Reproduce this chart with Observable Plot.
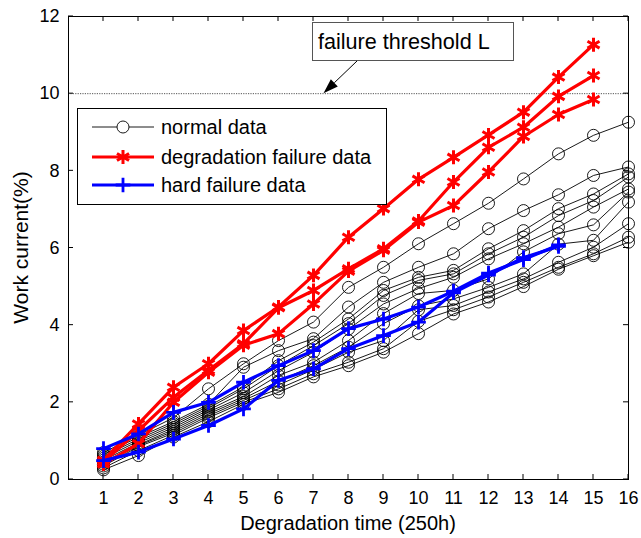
<!DOCTYPE html>
<html>
<head>
<meta charset="utf-8">
<script src="https://cdn.jsdelivr.net/npm/d3@7"></script>
<script src="https://cdn.jsdelivr.net/npm/@observablehq/plot@0.6"></script>
<style>
  html, body { margin: 0; padding: 0; background: white; }
  #chart { width: 641px; height: 538px; }
</style>
</head>
<body>
<div id="chart"></div>
<script>
// ---------- data ----------
const xTicks = [1,2,3,4,5,6,7,8,9,10,11,12,13,14,15,16];
const yTicks = [0,2,4,6,8,10,12];
const threshold = 10;
const thresholdLabel = "failure threshold L";
const xLabel = "Degradation time (250h)";
const yLabel = "Work current(%)";
const legendLabels = ["normal data", "degradation failure data", "hard failure data"];

// normal data: x = 1..16
const normal0 = [0.70,1.15,1.60,2.35,3.00,3.60,4.08,4.98,5.50,6.11,6.63,7.16,7.79,8.44,8.92,9.26];
const normal1 = [0.65,1.10,1.50,1.95,2.91,3.34,3.65,4.47,5.11,5.50,5.85,6.50,6.97,7.38,7.88,8.10];
const normal2 = [0.60,1.05,1.45,1.90,2.40,3.08,3.56,4.16,4.90,5.24,5.42,5.98,6.45,7.02,7.40,7.92];
const normal3 = [0.55,1.00,1.40,1.85,2.35,2.95,3.47,4.04,4.77,5.16,5.33,5.85,6.28,6.84,7.23,7.84];
const normal4 = [0.50,0.95,1.35,1.80,2.25,2.82,3.30,3.90,4.55,4.95,5.24,5.72,6.11,6.54,7.06,7.53];
const normal5 = [0.45,0.90,1.30,1.75,2.15,2.70,3.04,3.60,4.30,4.82,4.90,5.20,5.90,6.37,6.60,7.45];
const normal6 = [0.40,0.88,1.25,1.70,2.10,2.55,2.95,3.43,4.04,4.50,4.68,4.98,5.33,6.10,6.20,7.19];
const normal7 = [0.35,0.85,1.20,1.65,2.05,2.45,2.85,3.30,3.60,4.40,4.51,4.86,5.20,5.63,6.02,6.63];
const normal8 = [0.30,0.75,1.15,1.60,2.00,2.35,2.74,3.04,3.39,4.10,4.40,4.73,5.11,5.50,5.85,6.28];
const normal9 = [0.25,0.62,1.10,1.50,1.95,2.26,2.66,2.95,3.30,3.78,4.29,4.60,5.00,5.45,5.80,6.15];

// degradation failure data: x = 1..15
const degr0 = [0.50,1.44,2.39,3.00,3.86,4.47,5.29,6.28,7.02,7.78,8.35,8.93,9.52,10.43,11.27];
const degr1 = [0.45,1.27,2.13,2.83,3.52,4.45,4.90,5.46,5.98,6.70,7.71,8.61,9.13,9.93,10.47];
const degr2 = [0.40,0.93,2.00,2.78,3.48,3.78,4.55,5.40,5.94,6.67,7.10,7.97,8.89,9.46,9.85];

// hard failure data: x = 1..14
const hard0 = [0.80,1.18,1.74,2.00,2.52,2.95,3.34,3.91,4.16,4.47,4.88,5.35,5.70,6.08];
const hard1 = [0.49,0.71,1.05,1.40,1.83,2.57,2.87,3.39,3.73,4.08,4.84,5.30,5.75,6.04];

const normalSeries = [normal0,normal1,normal2,normal3,normal4,normal5,normal6,normal7,normal8,normal9];
const degrSeries = [degr0,degr1,degr2];
const hardSeries = [hard0,hard1];

const toRows = (series) => series.flatMap((vals, id) => vals.map((v, i) => ({id, x: xTicks[i], y: v})));
const normalRows = toRows(normalSeries);
const degrRows = toRows(degrSeries);
const hardRows = toRows(hardSeries);

// ---------- chart ----------
const FONT = "'Liberation Sans', Arial, Helvetica, sans-serif";
const chart = Plot.plot({
  width: 641,
  height: 538,
  marginLeft: 68,
  marginRight: 13,
  marginTop: 16,
  marginBottom: 59,
  x: {domain: [0, 16]},
  y: {domain: [0, 12]},
  style: {fontFamily: FONT, fontSize: "18px", color: "black", background: "white", overflow: "visible"},
  marks: [
    Plot.ruleY([threshold], {stroke: "#555", strokeWidth: 1, strokeDasharray: "1.2,1.2"}),
    Plot.line(normalRows, {x: "x", y: "y", z: "id", stroke: "black", strokeWidth: 0.9}),
    Plot.dot(normalRows, {x: "x", y: "y", r: 6, stroke: "black", strokeWidth: 0.9, fill: "none"}),
    Plot.line(degrRows, {x: "x", y: "y", z: "id", stroke: "#ff0000", strokeWidth: 3.2}),
    Plot.dot(degrRows, {x: "x", y: "y", symbol: "asterisk", r: 6.6, stroke: "#ff0000", strokeWidth: 3}),
    Plot.line(hardRows, {x: "x", y: "y", z: "id", stroke: "#0000ff", strokeWidth: 3.2}),
    Plot.dot(hardRows, {x: "x", y: "y", symbol: "plus", r: 4.8, stroke: "#0000ff", strokeWidth: 2.8}),
    Plot.frame({stroke: "black", strokeWidth: 1}),
    Plot.axisX({ticks: xTicks, tickSize: 0, tickPadding: 12, label: null, fontSize: 18}),
    Plot.axisY({ticks: yTicks, tickSize: 0, tickPadding: 9, label: null, fontSize: 18})
  ]
});
document.getElementById("chart").appendChild(chart);

// ---------- decorations (ticks, titles, legend, annotation) ----------
const svg = d3.select(chart);
const xs = chart.scale("x"), ys = chart.scale("y");
const X = v => xs.apply(v), Y = v => ys.apply(v);
const xL = X(0), xR = X(16), yB = Y(0), yT = Y(12);
const tk = 5;

const tg = svg.append("g").attr("stroke", "black").attr("stroke-width", 1);
for (const t of xTicks) {
  tg.append("line").attr("x1", X(t)).attr("x2", X(t)).attr("y1", yB).attr("y2", yB - tk);
  tg.append("line").attr("x1", X(t)).attr("x2", X(t)).attr("y1", yT).attr("y2", yT + tk);
}
for (const t of yTicks) {
  tg.append("line").attr("y1", Y(t)).attr("y2", Y(t)).attr("x1", xL).attr("x2", xL + tk);
  tg.append("line").attr("y1", Y(t)).attr("y2", Y(t)).attr("x1", xR).attr("x2", xR - tk);
}

// axis titles
svg.append("text").attr("x", (xL + xR) / 2).attr("y", 530).attr("text-anchor", "middle")
  .attr("font-family", FONT).attr("font-size", 20).attr("fill", "black").text(xLabel);
svg.append("text").attr("transform", `translate(21,${(yT + yB) / 2}) rotate(-90)`).attr("dy", "0.35em")
  .attr("text-anchor", "middle").attr("font-family", FONT).attr("font-size", 21).attr("fill", "black").text(yLabel);

// annotation box and arrow
const ag = svg.append("g");
ag.append("rect").attr("x", 312.5).attr("y", 22.5).attr("width", 201).attr("height", 38)
  .attr("fill", "white").attr("stroke", "#555").attr("stroke-width", 1);
ag.append("text").attr("x", 318).attr("y", 49).attr("text-anchor", "start").attr("font-family", FONT).attr("font-size", 21.6)
  .attr("fill", "black").text(thresholdLabel);
const tipX = X(7.3), tipY = Y(threshold);
const sx = 357, sy = 61;
const ang = Math.atan2(tipY - sy, tipX - sx);
const hl = 15, hw = 5;
const bx = tipX - hl * Math.cos(ang), by = tipY - hl * Math.sin(ang);
ag.append("line").attr("x1", sx).attr("y1", sy).attr("x2", bx).attr("y2", by)
  .attr("stroke", "black").attr("stroke-width", 1);
ag.append("path").attr("d", `M${tipX},${tipY}L${bx + hw * Math.sin(ang)},${by - hw * Math.cos(ang)}L${bx - hw * Math.sin(ang)},${by + hw * Math.cos(ang)}Z`)
  .attr("fill", "black");

// legend
const lg = svg.append("g");
lg.append("rect").attr("x", 77.5).attr("y", 108.5).attr("width", 309).attr("height", 96)
  .attr("fill", "white").attr("stroke", "black").attr("stroke-width", 1);
const legendRowsY = [127, 157, 185];
const legendStyles = [
  {stroke: "black", w: 0.9, sym: d3.symbolCircle, size: Math.PI * 36, sw: 0.9},
  {stroke: "#ff0000", w: 3.2, sym: d3.symbolAsterisk, size: Math.PI * 6.6 * 6.6, sw: 3},
  {stroke: "#0000ff", w: 3.2, sym: d3.symbolPlus, size: Math.PI * 4.8 * 4.8, sw: 2.8}
];
legendLabels.forEach((label, i) => {
  const s = legendStyles[i], y = legendRowsY[i];
  lg.append("line").attr("x1", 92).attr("x2", 154).attr("y1", y).attr("y2", y)
    .attr("stroke", s.stroke).attr("stroke-width", s.w);
  lg.append("path").attr("transform", `translate(123,${y})`).attr("d", d3.symbol(s.sym, s.size)())
    .attr("fill", i === 0 ? "white" : "none").attr("stroke", s.stroke).attr("stroke-width", s.sw);
  lg.append("text").attr("x", 161).attr("y", y).attr("dy", "0.36em").attr("text-anchor", "start").attr("font-family", FONT)
    .attr("font-size", 20).attr("fill", "black").text(label);
});
</script>
</body>
</html>
